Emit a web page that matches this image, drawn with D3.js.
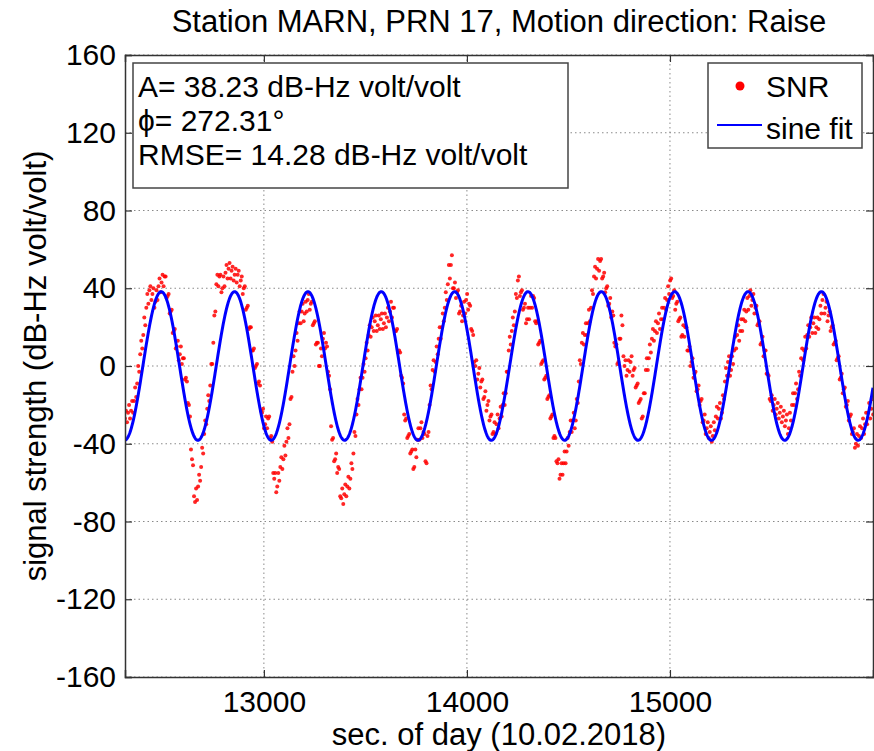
<!DOCTYPE html>
<html><head><meta charset="utf-8">
<script src="https://cdn.jsdelivr.net/npm/d3@7"></script>
<style>
body{margin:0;background:#fff}
svg text{font-family:Arial,"Liberation Sans",Helvetica,sans-serif;fill:#000}
</style>
</head><body>
<svg id="chart" width="874" height="751"></svg>
<script>
// ---------- data ----------
const titleText = "Station MARN, PRN 17, Motion direction: Raise";
const xLabelText = "sec. of day (10.02.2018)";
const yLabelText = "signal strength (dB-Hz volt/volt)";
const xTickValues = [13000, 14000, 15000];
const yTickValues = [-160, -120, -80, -40, 0, 40, 80, 120, 160];
const xDomain = [12316, 16000];
const yDomain = [-160, 160];
const statsLines = ["A= 38.23 dB-Hz volt/volt", "\u03d5= 272.31\u00b0", "RMSE= 14.28 dB-Hz volt/volt"];
const legendLabels = ["SNR", "sine fit"];

// sine fit parameters (amplitude and phase from the annotation, period)
const fitAmplitude = 38.23;
const fitPhaseDeg = 272.31;
const fitPeriod = 361.3;
const fitEpoch = 12316;

// SNR samples: three sub-samples per 15 s block
const snrStart = 12316;
const snrBlock = 15;
// sub-sample at +0 s
const snrMid = [
 -27,-24,-23,-18,-9,6,16,30,39,37, 33,41,43,46,36,28,18,10,6,4,
 -6,-20,-48,-70,-62,-52,-35,-22,-10,12, 42,46,40,48,50,49,47,47,44,40,
 30,20,8,0,-8,-24,-30,-27,-36,-58,
 -62,-52,-48,-39,-30,-3,8,22,28,27, 34,32,22,12,0,14,12,-5,-38,-48,
 -52,-68,-66,-62,-58,-45,-25,-12,-6,4, 16,20,23,21,24,22,25,28,30,18,
 8,-6,-28,-36,-44,-52,-38,-32,-34,
 -50,-20,-2,2,14,20,30,42,52,40, 38,28,26,34,32,18,0,-4,-8,-16,
 -20,-26,-34,-30,-27,-20,-14,8,18,28, 44,38,30,24,30,36,22,12,2,-6,
 -16,-26,-36,-50,-56,-50,-44,-34,-28,
 -28,-8,12,16,22,30,46,50,54,46, 40,32,28,10,2,26,0,-2,2,-2,
 -10,-18,-26,-2,4,14,18,22,24,30, 34,44,36,32,24,16,20,8,2,-4,
 -12,-18,-28,-32,-34,-36,-26,-22,-24,
 -8,2,-2,8,16,18,24,28,36,34, 30,22,12,8,-4,-18,-20,-22,-24,-26,
 -28,-32,-20,-14,-12,4,8,16,20,22, 20,24,34,30,26,20,12,4,-6,-12,
 -20,-26,-34,-40,-36,-32,-30,-24,-22
];
// sub-sample at +5 s
const snrUpper = [
 -23,-20,-18,-11,0,13,25,37,41,40, 39,45,47,46,37,29,19,13,10,4,
 -8,-26,-51,-63,-56,-42,-28,-15,1,26, 47,47,46,52,53,51,50,49,46,41,
 31,20,9,1,-10,-22,-26,-26,-39,-55,
 -55,-47,-41,-32,-17,5,17,28,32,33, 37,33,23,12,9,17,10,-12,-37,-45,
 -53,-63,-61,-57,-50,-34,-17,-6,1,12, 21,25,26,26,27,27,30,33,30,19,
 7,-9,-27,-35,-43,-43,-32,-29,-35,
 -36,-10,3,10,20,27,38,52,57,43, 39,31,33,37,31,16,3,-1,-7,-13,
 -18,-25,-29,-25,-21,-14,-3,15,25,37, 46,39,32,30,36,35,23,13,3,-5,
 -15,-25,-37,-48,-50,-44,-37,-28,-24,
 -17,3,17,22,29,39,51,55,55,48, 41,35,26,11,14,21,3,3,5,-1,
 -9,-17,-14,4,11,19,23,27,30,35, 41,45,39,33,25,21,20,10,4,-3,
 -10,-17,-25,-29,-31,-29,-21,-19,-15,
 -1,5,5,15,21,24,29,35,39,37, 31,23,15,8,-5,-15,-17,-19,-21,-23,
 -25,-24,-14,-9,-3,9,15,21,25,25, 25,31,37,33,28,21,13,5,-4,-11,
 -18,-25,-32,-35,-31,-27,-24,-19,-17
];
// sub-sample at +10 s
const snrLower = [
 -29,-27,-24,-16,-3,9,21,32,34,30, 34,38,41,35,27,17,9,3,1,-7,
 -19,-43,-67,-69,-59,-45,-30,-18,1,28, 41,38,41,45,45,44,43,41,37,29,
 19,8,-1,-9,-23,-32,-32,-37,-55,-65,
 -59,-53,-46,-37,-16,0,13,22,23,28, 29,21,11,0,5,9,-3,-31,-49,-55,
 -67,-71,-67,-63,-53,-36,-20,-12,-3,8, 15,18,18,19,19,20,23,25,18,7,
 -5,-25,-37,-45,-53,-47,-38,-37,-49,
 -34,-12,-3,6,14,23,34,45,40,35, 27,23,27,29,19,2,-7,-11,-17,-23,
 -28,-35,-35,-32,-26,-20,-3,11,21,35, 36,29,22,24,30,23,11,1,-7,-17,
 -27,-37,-49,-58,-56,-50,-41,-34,-32,
 -19,1,11,16,23,37,45,49,45,38, 31,25,12,1,14,5,-5,-3,-5,-11,
 -19,-27,-14,-2,7,13,17,19,24,29, 37,35,29,23,15,15,8,0,-6,-13,
 -20,-29,-35,-37,-39,-33,-27,-27,-17,
 -5,-5,1,9,13,18,23,29,31,27, 21,11,5,-4,-17,-23,-25,-27,-29,-31,
 -35,-28,-20,-17,-5,3,9,15,17,17, 19,27,27,23,18,11,3,-7,-14,-21,
 -28,-35,-42,-41,-37,-35,-30,-27,-25
];

// ---------- layout ----------
const W = 874, H = 751;
const m = {left: 125, right: 1, top: 55, bottom: 74};
const FS = 30;
const svg = d3.select("#chart");
const x = d3.scaleLinear().domain(xDomain).range([m.left, W - m.right]);
const y = d3.scaleLinear().domain(yDomain).range([H - m.bottom, m.top]);

const snr = [];
[[snrMid, 0], [snrUpper, 5], [snrLower, 10]].forEach(([arr, off]) =>
  arr.forEach((v, i) => snr.push({t: snrStart + i * snrBlock + off, v})));
const fitT = d3.range(xDomain[0], xDomain[1] + 1, 2);
const fit = fitT.map(t => ({t, v: fitAmplitude * Math.sin(2 * Math.PI * (t - fitEpoch) / fitPeriod + fitPhaseDeg * Math.PI / 180)}));

// clip
svg.append("defs").append("clipPath").attr("id", "clip")
  .append("rect").attr("x", m.left).attr("y", m.top)
  .attr("width", W - m.left - m.right).attr("height", H - m.top - m.bottom);

// grid
const grid = svg.append("g").attr("stroke", "#8a8a8a").attr("stroke-width", 1).attr("stroke-dasharray", "1.5,3");
grid.selectAll(".gx").data(xTickValues).join("line")
  .attr("x1", d => x(d)).attr("x2", d => x(d)).attr("y1", m.top).attr("y2", H - m.bottom);
grid.selectAll(".gy").data(yTickValues).join("line")
  .attr("y1", d => y(d)).attr("y2", d => y(d)).attr("x1", m.left).attr("x2", W - m.right);

// data
const plot = svg.append("g").attr("clip-path", "url(#clip)");
plot.append("g").selectAll("circle").data(snr).join("circle")
  .attr("cx", d => x(d.t)).attr("cy", d => y(d.v)).attr("r", 2)
  .attr("fill", "#ff0000").attr("fill-opacity", 0.85);
plot.append("path").datum(fit)
  .attr("fill", "none").attr("stroke", "#0000ff").attr("stroke-width", 3)
  .attr("d", d3.line().x(d => x(d.t)).y(d => y(d.v)));

// axes
const axisColor = "#333";
const gxB = svg.append("g").attr("transform", `translate(0,${H - m.bottom})`)
  .call(d3.axisBottom(x).tickValues(xTickValues).tickSize(-7).tickPadding(14).tickFormat(d3.format("d")));
const gxT = svg.append("g").attr("transform", `translate(0,${m.top})`)
  .call(d3.axisTop(x).tickValues(xTickValues).tickSize(-7).tickFormat(""));
const gyL = svg.append("g").attr("transform", `translate(${m.left},0)`)
  .call(d3.axisLeft(y).tickValues(yTickValues).tickSize(-7).tickPadding(9).tickFormat(d3.format("d")));
const gyR = svg.append("g").attr("transform", `translate(${W - m.right},0)`)
  .call(d3.axisRight(y).tickValues(yTickValues).tickSize(-7).tickFormat(""));
[gxB, gxT, gyL, gyR].forEach(g => {
  g.select(".domain").attr("stroke", axisColor).attr("stroke-width", 1.5);
  g.selectAll(".tick line").attr("stroke", axisColor).attr("stroke-width", 1.2);
  g.selectAll("text").attr("font-size", FS).attr("font-family", "Arial, Liberation Sans, sans-serif").attr("fill", "#000");
});
gyL.selectAll(".tick text").text(d => d < 0 ? "-" + Math.abs(d) : d);

// titles
svg.append("text").attr("x", (m.left + W - m.right) / 2).attr("y", 32)
  .attr("text-anchor", "middle").attr("font-size", 31).text(titleText);
svg.append("text").attr("x", (m.left + W - m.right) / 2).attr("y", 745)
  .attr("text-anchor", "middle").attr("font-size", 31).text(xLabelText);
svg.append("text").attr("transform", `translate(46,${(m.top + H - m.bottom) / 2}) rotate(-90)`)
  .attr("text-anchor", "middle").attr("font-size", 31).text(yLabelText);

// stats box
const sb = svg.append("g");
sb.append("rect").attr("x", 133).attr("y", 63).attr("width", 435).attr("height", 125)
  .attr("fill", "#fff").attr("stroke", "#444").attr("stroke-width", 1.5);
sb.selectAll("text").data(statsLines).join("text")
  .attr("x", 138).attr("y", (d, i) => 97 + i * 34).attr("font-size", FS).text(d => d);

// legend
const lg = svg.append("g");
lg.append("rect").attr("x", 708).attr("y", 63).attr("width", 154).attr("height", 85)
  .attr("fill", "#fff").attr("stroke", "#444").attr("stroke-width", 1.5);
lg.append("circle").attr("cx", 740).attr("cy", 86).attr("r", 4.5).attr("fill", "#ff0000");
lg.append("line").attr("x1", 717).attr("x2", 762).attr("y1", 125).attr("y2", 125)
  .attr("stroke", "#0000ff").attr("stroke-width", 2);
lg.selectAll("text").data(legendLabels).join("text")
  .attr("x", 766).attr("y", (d, i) => 97 + i * 42).attr("font-size", FS).text(d => d);
</script>
</body></html>
